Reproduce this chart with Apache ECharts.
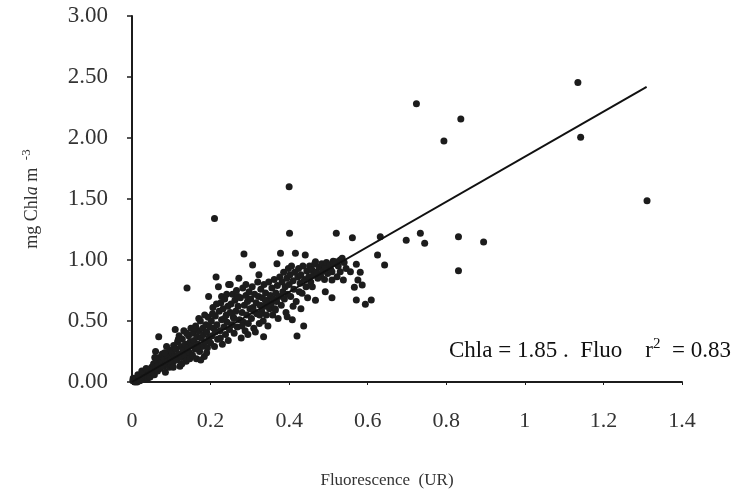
<!DOCTYPE html>
<html>
<head>
<meta charset="utf-8">
<script src="https://cdn.jsdelivr.net/npm/echarts@6/dist/echarts.min.js"></script>
<style>html,body{margin:0;padding:0;background:#fff}#c{width:736px;height:490px}</style>
</head>
<body>
<div id="c"></div>
<script>
// Axis ticks
var xTicks = [0, 0.2, 0.4, 0.6, 0.8, 1, 1.2, 1.4];
var yTicks = [0, 0.5, 1, 1.5, 2, 2.5, 3];

// Regression line Chla = 1.85 * Fluo
var fitX = [0, 1.31];
var fitY = [0, 2.42];

// Observed points [Fluorescence, Chla]
var obsLow = [
[0.002,0.01],[0.005,0.02],[0.008,0.005],[0.01,0.03],[0.012,0.015],[0.015,0.04],[0.018,0.02],[0.02,0.05],[0.022,0.03],[0.025,0.06],[0.028,0.04],[0.03,0.07],[0.032,0.03],[0.035,0.08],[0.038,0.05],[0.04,0.09],[0.042,0.06],[0.045,0.1],[0.048,0.07],[0.05,0.12],[0.003,0.03],[0.007,0.0],[0.013,0.0],[0.02,0.01],[0.027,0.02],[0.033,0.05],[0.04,0.03],[0.046,0.04],[0.05,0.08],[0.015,0.06],[0.025,0.09],[0.036,0.11],
[0.052,0.1],[0.055,0.15],[0.057,0.06],[0.06,0.12],[0.062,0.18],[0.065,0.09],[0.067,0.14],[0.07,0.2],[0.072,0.11],[0.075,0.16],[0.077,0.23],[0.08,0.13],[0.082,0.19],[0.085,0.08],[0.087,0.15],[0.09,0.22],[0.092,0.17],[0.095,0.12],[0.097,0.26],[0.1,0.19],[0.06,0.25],[0.068,0.37],[0.088,0.29],[0.1,0.14],[0.083,0.24],[0.058,0.2],
[0.102,0.24],[0.104,0.16],[0.106,0.3],[0.108,0.21],[0.11,0.43],[0.112,0.27],[0.114,0.18],[0.116,0.33],[0.118,0.23],[0.12,0.38],[0.122,0.13],[0.124,0.29],[0.126,0.2],[0.128,0.35],[0.13,0.26],[0.132,0.42],[0.134,0.22],[0.136,0.31],[0.138,0.17],[0.14,0.77],[0.142,0.28],[0.144,0.38],[0.146,0.24],[0.148,0.33],[0.15,0.44],[0.105,0.12],[0.118,0.35],[0.127,0.15],[0.139,0.4],[0.147,0.19],
[0.152,0.3],[0.154,0.22],[0.156,0.4],[0.158,0.34],[0.16,0.27],[0.162,0.46],[0.164,0.19],[0.166,0.37],[0.168,0.31],[0.17,0.42],[0.172,0.25],[0.174,0.5],[0.176,0.36],[0.178,0.29],[0.18,0.44],[0.182,0.39],[0.184,0.21],[0.186,0.33],[0.188,0.47],[0.19,0.41],[0.192,0.28],[0.194,0.53],[0.196,0.36],[0.198,0.45],[0.2,0.32],[0.195,0.7],[0.185,0.55],[0.17,0.52],[0.158,0.44],[0.165,0.28],[0.175,0.18],[0.19,0.24]
];
var obsMid = [
[0.202,0.5],[0.204,0.38],[0.206,0.61],[0.208,0.44],[0.21,0.29],[0.212,0.54],[0.214,0.86],[0.216,0.47],[0.218,0.35],[0.22,0.78],[0.222,0.58],[0.224,0.42],[0.226,0.65],[0.228,0.51],[0.23,0.31],[0.232,0.6],[0.234,0.45],[0.236,0.68],[0.238,0.39],[0.24,0.55],[0.242,0.49],[0.244,0.62],[0.246,0.8],[0.248,0.43],[0.25,0.57],[0.205,0.56],[0.215,0.64],[0.225,0.36],[0.235,0.52],[0.245,0.34],[0.212,0.41],[0.228,0.7],[0.241,0.72],[0.25,0.8],[0.21,1.34],
[0.252,0.64],[0.254,0.47],[0.256,0.72],[0.258,0.53],[0.26,0.4],[0.262,0.67],[0.264,0.58],[0.266,0.75],[0.268,0.45],[0.27,0.62],[0.272,0.85],[0.274,0.51],[0.276,0.69],[0.278,0.36],[0.28,0.57],[0.282,0.77],[0.284,0.49],[0.285,1.05],[0.286,0.63],[0.288,0.42],[0.29,0.71],[0.292,0.55],[0.294,0.66],[0.296,0.48],[0.298,0.74],[0.3,0.6],[0.26,0.52],[0.27,0.7],[0.28,0.46],[0.29,0.8],[0.295,0.39],
[0.302,0.68],[0.304,0.52],[0.306,0.78],[0.307,0.96],[0.308,0.61],[0.31,0.44],[0.312,0.72],[0.314,0.41],[0.316,0.65],[0.318,0.56],[0.32,0.82],[0.322,0.7],[0.323,0.88],[0.324,0.48],[0.326,0.63],[0.328,0.76],[0.33,0.58],[0.332,0.69],[0.334,0.5],[0.335,0.37],[0.336,0.8],[0.338,0.62],[0.34,0.73],[0.342,0.55],[0.344,0.67],[0.346,0.46],[0.348,0.82],[0.35,0.6],[0.31,0.58],[0.325,0.55],[0.34,0.66],
[0.352,0.71],[0.354,0.64],[0.356,0.77],[0.358,0.55],[0.36,0.68],[0.362,0.84],[0.364,0.6],[0.365,0.59],[0.366,0.73],[0.368,0.66],[0.369,0.97],[0.37,0.79],[0.372,0.52],[0.374,0.7],[0.376,0.86],[0.378,1.055],[0.38,0.63],[0.382,0.82],[0.384,0.74],[0.386,0.9],[0.388,0.68],[0.39,0.78],[0.392,0.57],[0.394,0.85],[0.395,0.535],[0.396,0.72],[0.398,0.93],[0.4,0.8],[0.401,1.22],[0.4,1.6]
];
var obsHigh = [
[0.402,0.88],[0.404,0.7],[0.406,0.95],[0.408,0.51],[0.41,0.83],[0.412,0.76],[0.414,0.9],[0.416,1.055],[0.418,0.66],[0.42,0.377],[0.422,0.86],[0.424,0.93],[0.426,0.74],[0.428,0.81],[0.43,0.88],[0.433,0.727],[0.435,0.95],[0.437,0.46],[0.439,0.84],[0.441,1.04],[0.443,0.78],[0.445,0.91],[0.447,0.69],[0.45,0.863],[0.41,0.62],[0.43,0.6],
[0.452,0.95],[0.455,0.82],[0.458,0.92],[0.459,0.78],[0.462,0.88],[0.465,0.97],[0.467,0.986],[0.467,0.67],[0.47,0.9],[0.473,0.85],[0.476,0.94],[0.48,0.87],[0.483,0.97],[0.486,0.91],[0.49,0.84],[0.492,0.945],[0.492,0.74],[0.495,0.98],[0.498,0.89],
[0.503,0.96],[0.506,0.92],[0.509,0.904],[0.509,0.836],[0.509,0.691],[0.512,0.99],[0.514,0.973],[0.518,0.986],[0.52,1.219],[0.522,0.863],[0.525,0.95],[0.53,1.0],[0.53,0.904],[0.535,1.014],[0.538,0.836],[0.54,0.98],[0.545,0.93],
[0.556,0.904],[0.561,1.183],[0.566,0.776],[0.571,0.965],[0.571,0.672],[0.575,0.836],[0.581,0.899],[0.586,0.795],[0.594,0.637],[0.609,0.672],[0.625,1.041],[0.632,1.19],[0.643,0.96],[0.698,1.162],[0.734,1.219],[0.745,1.137],[0.724,2.28],[0.794,1.975],[0.837,2.156],[0.831,1.191],[0.895,1.147],[0.831,0.911],[1.135,2.455],[1.142,2.006],[1.311,1.486]
];

var ink = '#1c1c1c';
var serif = '"Liberation Serif", "DejaVu Serif", serif';
var chart = echarts.init(document.getElementById('c'), null, {renderer: 'canvas'});
chart.setOption({
  backgroundColor: '#fff',
  animation: false,
  grid: {left: 132, right: 54, top: 16, bottom: 108, containLabel: false, outerBoundsMode: 'none'},
  xAxis: {
    type: 'value', min: xTicks[0], max: xTicks[xTicks.length - 1], interval: 0.2,
    splitLine: {show: false},
    axisLine: {show: true, onZero: false, lineStyle: {color: ink, width: 2}},
    axisTick: {show: true, inside: false, length: 3, lineStyle: {color: ink, width: 1}},
    axisLabel: {margin: 28, color: '#333', fontFamily: serif, fontSize: 22},
    name: 'Fluorescence  (UR)', nameLocation: 'middle', nameGap: 90,
    nameTextStyle: {fontFamily: serif, fontSize: 17, color: '#333', padding: [0, 40, 0, 0]}
  },
  yAxis: {
    type: 'value', min: yTicks[0], max: yTicks[yTicks.length - 1], interval: 0.5,
    splitLine: {show: false},
    axisLine: {show: true, onZero: false, lineStyle: {color: ink, width: 2}},
    axisTick: {show: true, inside: false, length: 5, lineStyle: {color: ink, width: 1.5}},
    axisLabel: {margin: 24, color: '#333', fontFamily: serif, fontSize: 23,
      formatter: function (v) { return v.toFixed(2); }},
    name: '{n|mg Chl}{i|a}{n| m }{s|-3}', nameLocation: 'middle', nameGap: 88, nameRotate: 90,
    nameTextStyle: {
      rich: {
        n: {fontFamily: serif, fontSize: 18, color: '#333'},
        i: {fontFamily: serif, fontSize: 18, fontStyle: 'italic', color: '#333'},
        s: {fontFamily: serif, fontSize: 13, color: '#333', verticalAlign: 'bottom', padding: [0, 0, 11, 3]}
      }
    }
  },
  graphic: [{
    type: 'text', left: 449, top: 337,
    style: {
      text: '{t|Chla = 1.85 .  Fluo    r}{s|2}{t|  = 0.83}',
      rich: {
        t: {fontFamily: serif, fontSize: 23, fill: '#111'},
        s: {fontFamily: serif, fontSize: 15, fill: '#111', padding: [0, 0, 13, 0]}
      }
    }
  }],
  series: [
    {type: 'scatter', symbol: 'circle', symbolSize: 7, itemStyle: {color: ink, opacity: 1}, data: obsLow.concat(obsMid, obsHigh)},
    {type: 'line', symbol: 'none', lineStyle: {color: '#111', width: 2},
     data: fitX.map(function (x, i) { return [x, fitY[i]]; })}
  ]
});
</script>
</body>
</html>
